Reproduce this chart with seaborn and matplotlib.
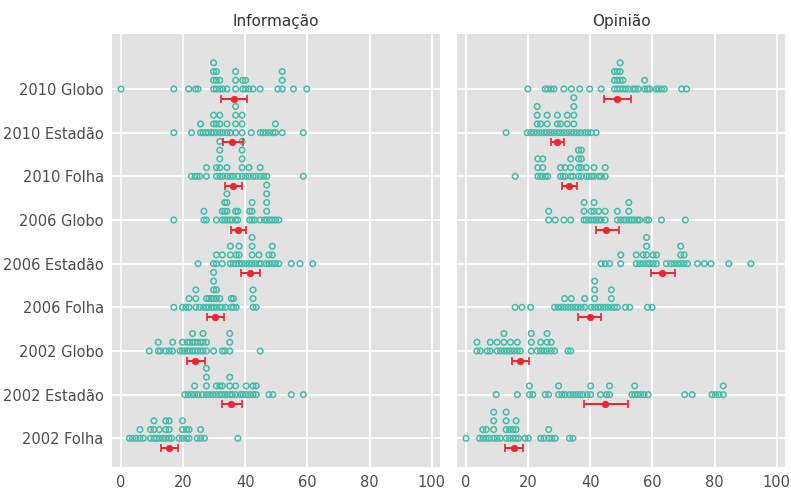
import numpy as np
import pandas as pd
import seaborn as sns
import matplotlib.pyplot as plt

grupos = ["2010 Globo", "2010 Estadão", "2010 Folha",
          "2006 Globo", "2006 Estadão", "2006 Folha",
          "2002 Globo", "2002 Estadão", "2002 Folha"]
paineis = ["Informação", "Opinião"]

# pontos de cada grupo (valores repetidos ficam empilhados)
info_2010_globo = [0, 17, 21.8, 24, 24.8, 29.8, 29.8, 29.8, 29.8, 30.7, 30.7, 30.7, 31.8, 31.8,
                   32.8, 34.1, 36.9, 36.9, 36.9, 39.2, 39.2, 40.1, 40.1, 41.2, 42.5, 44.8, 50.5,
                   51.9, 51.9, 51.9, 55.5, 59.8]
info_2010_estadao = [17, 22.7, 25.6, 25.6, 26.4, 27.3, 28.1, 29.1, 29.8, 29.8, 29.8, 30.7, 30.7,
                     31.8, 31.8, 31.8, 32.8, 34.1, 34.1, 35.2, 36.9, 36.9, 36.9, 36.9, 39.0, 39.0,
                     39.0, 41.9, 44.8, 45.7, 46.7, 47.8, 48.9, 49.7, 49.7, 51.9, 58.7]
info_2010_folha = [22.7, 23.8, 24.5, 25.3, 27.5, 27.5, 30.7, 30.7, 31.8, 31.8, 31.8, 31.8, 31.8,
                   32.8, 34.1, 34.1, 35.2, 36.2, 37.6, 39.0, 39.0, 39.0, 39.0, 39.0, 40.1, 41.2,
                   41.2, 42.5, 43.5, 44.8, 44.8, 45.9, 46.9, 58.7]
info_2006_globo = [17, 26.7, 26.7, 27.5, 30.7, 32.6, 32.6, 33.4, 33.4, 33.4, 34.1, 34.1, 34.1, 34.1,
                   35.0, 35.8, 36.9, 36.9, 37.6, 37.6, 41.4, 41.4, 42.2, 42.2, 42.2, 43.0, 44.8,
                   46.2, 46.9, 46.9, 46.9, 46.9, 46.9, 47.8, 48.7, 49.7, 50.8]
info_2006_estadao = [24.8, 29.8, 30.7, 30.7, 32.6, 32.6, 35.2, 35.2, 35.2, 36.2, 37.1, 37.1, 38.0,
                     38.0, 38.0, 39.0, 40.1, 41.2, 42.2, 42.2, 42.2, 42.2, 43.3, 44.4, 44.4, 45.1,
                     46.7, 47.6, 47.6, 48.7, 48.7, 48.7, 49.7, 50.8, 54.8, 57.6, 61.7]
info_2006_folha = [17, 19.8, 20.9, 21.9, 21.9, 24.1, 24.1, 24.1, 25.3, 26.6, 27.5, 27.5, 28.3, 28.3,
                   29.1, 29.1, 29.8, 29.8, 29.8, 29.8, 29.8, 30.7, 30.7, 30.7, 31.8, 31.8, 32.6,
                   33.7, 35.5, 35.5, 36.2, 36.2, 37.1, 42.5, 42.5, 42.5, 43.5]
info_2002_globo = [9.1, 12.0, 12.0, 12.7, 14.4, 15.5, 16.6, 16.6, 19.0, 19.8, 19.8, 20.5, 21.3, 21.3,
                   22.1, 22.1, 23.0, 23.0, 23.0, 23.8, 23.8, 24.7, 24.7, 25.6, 25.6, 26.4, 26.4,
                   26.4, 27.5, 27.5, 29.8, 32.6, 33.4, 35.0, 35.0, 35.0, 44.8]
info_2002_estadao = [20.5, 21.6, 22.7, 23.7, 23.7, 24.8, 26.2, 27.5, 27.5, 27.5, 27.5, 28.5, 29.6,
                     30.7, 30.7, 31.8, 31.8, 32.6, 32.6, 33.4, 34.1, 35.0, 35.0, 35.0, 35.8, 36.9,
                     36.9, 38.4, 39.2, 40.3, 40.3, 41.4, 42.5, 42.5, 43.5, 43.5, 47.6, 48.9, 54.8,
                     58.7]
info_2002_folha = [2.7, 3.7, 4.8, 6.1, 6.1, 7.2, 9.5, 9.5, 10.6, 10.6, 10.6, 11.4, 12.3, 12.3, 13.4,
                   14.4, 14.4, 14.4, 15.5, 15.5, 15.5, 16.3, 18.7, 19.8, 19.8, 19.8, 21.1, 21.1,
                   21.9, 21.9, 24.5, 25.6, 25.6, 26.9, 37.6]

opin_2010_globo = [19.9, 25.5, 26.3, 27.4, 28.3, 31.5, 33.9, 36.6, 39.8, 43.5, 47.8, 47.8, 47.8,
                   48.7, 48.7, 48.7, 49.6, 49.6, 49.6, 49.6, 50.5, 50.5, 51.3, 52.2, 53.8, 54.5,
                   55.4, 57.5, 57.5, 58.4, 59.1, 61.3, 62.0, 62.9, 63.8, 69.4, 71.0]
opin_2010_estadao = [12.9, 19.7, 20.8, 21.8, 22.9, 22.9, 22.9, 22.9, 24.0, 24.0, 25.1, 26.1, 26.1,
                     26.1, 27.2, 28.3, 29.4, 29.4, 29.4, 30.4, 30.4, 31.5, 32.6, 32.6, 32.6, 33.7,
                     34.7, 34.7, 34.7, 34.7, 34.7, 35.8, 36.9, 38.2, 39.2, 40.3, 41.9]
opin_2010_folha = [15.8, 23.1, 23.1, 23.1, 24.0, 24.7, 24.7, 24.7, 25.5, 26.3, 30.4, 30.4, 31.2,
                   31.9, 31.9, 33.7, 33.7, 33.7, 34.4, 36.2, 36.2, 36.2, 36.2, 37.1, 37.1, 37.1,
                   37.1, 38.7, 38.7, 39.6, 40.4, 41.2, 41.2, 42.7, 43.5, 44.8, 44.8]
opin_2006_globo = [26.6, 26.6, 28.7, 31.5, 33.7, 38.0, 38.0, 38.0, 38.7, 39.5, 40.3, 40.3, 41.2,
                   41.2, 41.2, 41.9, 42.7, 42.7, 43.5, 44.8, 44.8, 48.7, 48.7, 49.8, 50.9, 51.6,
                   52.4, 52.4, 52.4, 53.2, 54.1, 55.2, 55.9, 58.1, 58.8, 62.9, 70.6]
opin_2006_estadao = [43.5, 44.8, 46.2, 49.8, 49.8, 54.8, 54.8, 55.9, 57.0, 57.0, 58.1, 58.1, 58.1,
                     58.1, 59.1, 60.2, 60.2, 61.3, 61.3, 64.5, 65.9, 67.0, 68.1, 69.1, 69.1, 69.1,
                     70.2, 70.2, 71.3, 74.5, 76.7, 78.8, 84.6, 91.7]
opin_2006_folha = [15.8, 18.0, 20.8, 28.5, 29.6, 30.6, 31.7, 31.7, 32.8, 33.9, 33.9, 35.0, 36.0,
                   37.1, 38.2, 38.2, 40.3, 41.4, 41.4, 41.4, 41.4, 42.5, 43.5, 44.6, 45.7, 46.8,
                   46.8, 46.8, 47.8, 48.7, 51.3, 52.7, 58.4, 59.9]
opin_2002_globo = [3.5, 3.5, 4.6, 6.8, 7.8, 7.8, 10.0, 10.0, 11.1, 12.2, 12.2, 12.2, 13.2, 14.3,
                   14.3, 15.4, 16.5, 16.5, 17.5, 21.0, 21.0, 21.0, 22.9, 24.0, 24.0, 25.1, 26.1,
                   26.1, 26.1, 27.4, 27.4, 28.5, 32.8, 33.7]
opin_2002_estadao = [9.7, 16.5, 20.4, 20.4, 21.5, 25.5, 26.6, 29.8, 29.8, 30.9, 31.9, 33.3, 34.4,
                     35.5, 36.6, 37.6, 39.0, 40.1, 40.1, 43.3, 45.2, 46.2, 46.2, 53.4, 54.3, 54.3,
                     55.2, 56.2, 57.3, 58.6, 70.4, 72.8, 79.2, 80.3, 81.4, 82.8, 82.8]
opin_2002_folha = [0, 4.3, 5.4, 5.4, 6.5, 6.5, 7.5, 8.9, 8.9, 8.9, 8.9, 10.0, 11.1, 12.9, 12.9,
                   12.9, 12.9, 14.0, 14.0, 15.1, 15.1, 16.1, 16.1, 16.1, 16.9, 19.0, 20.1, 24.0,
                   25.1, 26.6, 26.6, 27.6, 28.7, 33.3, 34.4]

# média e intervalo (na ordem de grupos)
info_media = [36.3, 35.8, 36.0, 37.6, 41.6, 30.2, 23.7, 35.5, 15.5]
info_inf = [32.3, 32.8, 33.4, 35.5, 38.7, 27.8, 21.3, 32.6, 13.0]
info_sup = [40.5, 39.3, 39.0, 40.3, 44.8, 33.2, 27.0, 39.0, 18.4]
opin_media = [48.7, 29.4, 33.3, 45.2, 63.1, 39.8, 17.5, 44.8, 15.4]
opin_inf = [44.4, 27.2, 30.9, 41.9, 59.5, 36.2, 14.7, 38.0, 12.4]
opin_sup = [53.2, 31.5, 35.8, 49.1, 67.2, 43.3, 20.4, 52.2, 18.3]

info_pontos = [info_2010_globo, info_2010_estadao, info_2010_folha, info_2006_globo,
               info_2006_estadao, info_2006_folha, info_2002_globo, info_2002_estadao,
               info_2002_folha]
opin_pontos = [opin_2010_globo, opin_2010_estadao, opin_2010_folha, opin_2006_globo,
               opin_2006_estadao, opin_2006_folha, opin_2002_globo, opin_2002_estadao,
               opin_2002_folha]

linhas = []
for painel, pontos in zip(paineis, [info_pontos, opin_pontos]):
    for i, vals in enumerate(pontos):
        for v in vals:
            linhas.append((painel, grupos[i], i, v))
df = pd.DataFrame(linhas, columns=["painel", "grupo", "pos", "valor"])
# empilhamento tipo dotplot
df["nivel"] = df.groupby(["painel", "grupo", "valor"]).cumcount()
df["y"] = df["pos"] - 0.2 * df["nivel"]

resumo = pd.DataFrame({
    "painel": [paineis[0]] * 9 + [paineis[1]] * 9,
    "pos": list(range(9)) * 2,
    "media": info_media + opin_media,
    "inf": info_inf + opin_inf,
    "sup": info_sup + opin_sup,
})
resumo["y"] = resumo["pos"] + 0.22

sns.set_theme(style="darkgrid", rc={
    "axes.facecolor": "#E2E2E2",
    "grid.color": "white",
    "grid.linewidth": 1.3,
    "xtick.color": "#7f7f7f",
    "ytick.color": "#7f7f7f",
    "xtick.labelcolor": "#4d4d4d",
    "ytick.labelcolor": "#4d4d4d",
})
plt.rcParams["font.family"] = ["DejaVu Sans"]

teal = "#45BBA9"
vermelho = "#F0242C"

fig = plt.figure(figsize=(7.91, 4.97), dpi=100)
ax1 = fig.add_axes([0.1416, 0.061, 0.4147, 0.8706])
ax2 = fig.add_axes([0.5778, 0.061, 0.4147, 0.8706])

for ax, painel in zip([ax1, ax2], paineis):
    d = df[df["painel"] == painel]
    r = resumo[resumo["painel"] == painel]
    sns.scatterplot(data=d, x="valor", y="y", ax=ax, marker="o", s=16,
                    facecolors="none", edgecolor=teal, linewidth=1.1, legend=False, zorder=3)
    ax.errorbar(r["media"], r["y"], xerr=[r["media"] - r["inf"], r["sup"] - r["media"]],
                fmt="none", ecolor=vermelho, elinewidth=1.4, capsize=3, capthick=1.2, zorder=4)
    sns.scatterplot(data=r, x="media", y="y", ax=ax, color=vermelho, s=22,
                    edgecolor=vermelho, linewidth=0.5, legend=False, zorder=5)
    ax.set_xlim(-2.9, 102.7)
    ax.set_ylim(8.65, -1.26)
    ax.set_xticks([0, 20, 40, 60, 80, 100])
    ax.set_yticks(range(9))
    ax.set_xlabel("")
    ax.set_ylabel("")
    ax.set_title(painel, fontsize=11, color="#333333", pad=6)
    ax.tick_params(axis="both", length=3, width=1, labelsize=10.5, pad=3)
    for s in ax.spines.values():
        s.set_visible(False)

ax1.set_yticklabels(grupos)
ax2.set_yticklabels([])
ax2.tick_params(axis="y", length=0)

fig.savefig("out.png", dpi=100)
